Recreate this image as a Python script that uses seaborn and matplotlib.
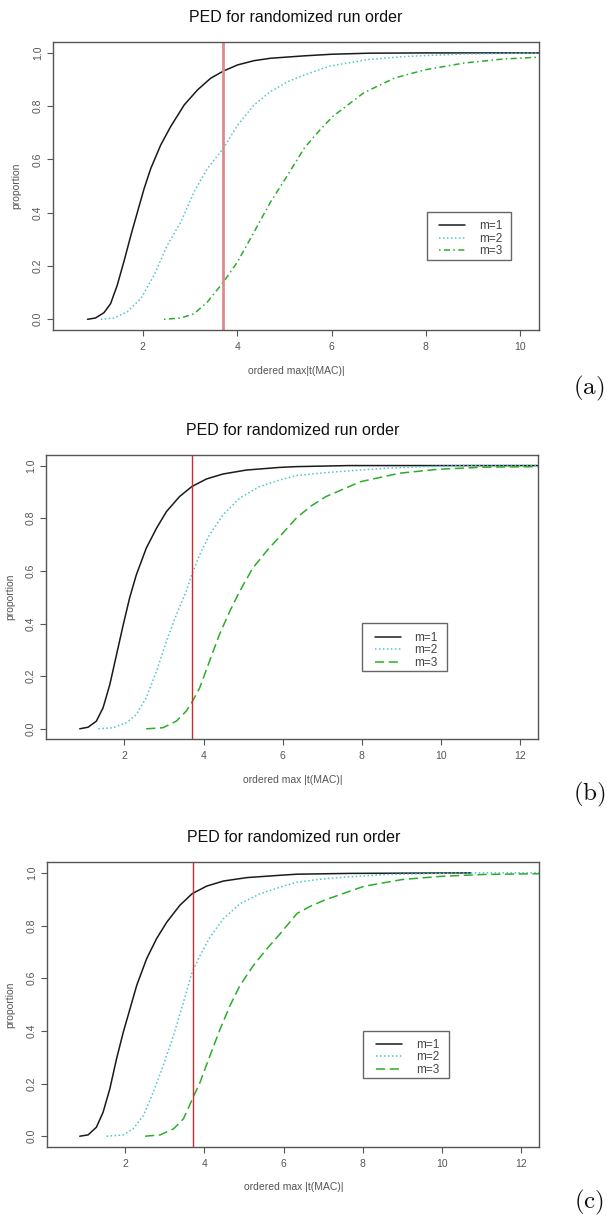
import numpy as np
import pandas as pd
import matplotlib
matplotlib.use('Agg')
import matplotlib.pyplot as plt
from matplotlib.patches import Rectangle
import seaborn as sns

sns.set_theme(style='white')
plt.rcParams['font.family'] = ['Liberation Sans', 'DejaVu Sans']
plt.rcParams['mathtext.fontset'] = 'cm'

title = 'PED for randomized run order'
labels = ['m=1', 'm=2', 'm=3']
panel_tags = ['(a)', '(b)', '(c)']
xlabels = ['ordered max|t(MAC)|', 'ordered max |t(MAC)|', 'ordered max |t(MAC)|']
vline_x = 3.70

# ---- panel (a) ----
xa1 = [0.83, 1.0, 1.18, 1.32, 1.46, 1.60, 1.75, 1.89, 2.03, 2.17, 2.38, 2.59, 2.88, 3.16, 3.44, 3.71,
       4.01, 4.36, 4.71, 5.42, 6.0, 6.8, 8.0, 10.4]
ya1 = [0.0, 0.005, 0.025, 0.059, 0.128, 0.216, 0.316, 0.404, 0.491, 0.566, 0.654, 0.723, 0.805, 0.861,
       0.905, 0.932, 0.955, 0.971, 0.98, 0.989, 0.995, 0.999, 1.0, 1.0]
xa2 = [1.11, 1.39, 1.67, 1.96, 2.24, 2.52, 2.81, 3.09, 3.37, 3.71, 4.01, 4.36, 4.71, 5.07, 5.42, 5.95,
       6.77, 7.59, 8.8, 10.4]
ya2 = [0.0, 0.005, 0.028, 0.078, 0.165, 0.278, 0.366, 0.479, 0.566, 0.642, 0.729, 0.805, 0.855, 0.892,
       0.917, 0.95, 0.975, 0.987, 0.996, 1.0]
xa3 = [2.45, 2.81, 3.09, 3.37, 3.71, 4.01, 4.36, 4.71, 5.07, 5.42, 5.75, 6.03, 6.68, 7.34, 7.99, 8.81,
       9.63, 10.4]
ya3 = [0.0, 0.005, 0.021, 0.065, 0.14, 0.216, 0.328, 0.441, 0.541, 0.642, 0.71, 0.762, 0.85, 0.906,
       0.937, 0.962, 0.977, 0.984]

# ---- panel (b) ----
xb1 = [0.87, 1.08, 1.29, 1.46, 1.63, 1.80, 1.97, 2.13, 2.30, 2.55, 2.81, 3.06, 3.39, 3.70, 4.07, 4.49,
       5.08, 5.92, 6.34, 7.67, 12.5]
yb1 = [0.0, 0.006, 0.029, 0.08, 0.168, 0.282, 0.396, 0.497, 0.585, 0.686, 0.762, 0.825, 0.882, 0.92,
       0.949, 0.968, 0.983, 0.993, 0.996, 1.0, 1.0]
xb2 = [1.34, 1.71, 2.05, 2.30, 2.55, 2.81, 3.06, 3.31, 3.56, 3.70, 3.90, 4.15, 4.49, 4.91, 5.41, 5.92,
       6.34, 7.0, 7.67, 8.65, 9.63, 10.6, 12.5]
yb2 = [0.0, 0.004, 0.023, 0.054, 0.118, 0.219, 0.332, 0.433, 0.522, 0.585, 0.661, 0.737, 0.813, 0.876,
       0.92, 0.945, 0.962, 0.972, 0.98, 0.99, 0.996, 1.0, 1.0]
xb3 = [2.55, 2.97, 3.31, 3.56, 3.70, 3.90, 4.15, 4.40, 4.66, 4.91, 5.24, 5.58, 5.92, 6.34, 6.7, 7.09,
       7.97, 8.95, 9.93, 11.1, 12.5]
yb3 = [0.0, 0.004, 0.029, 0.067, 0.099, 0.155, 0.257, 0.358, 0.446, 0.522, 0.61, 0.673, 0.73, 0.8,
       0.845, 0.882, 0.939, 0.971, 0.986, 0.994, 0.996]

# ---- panel (c) ----
xc1 = [0.85, 1.06, 1.27, 1.44, 1.61, 1.78, 1.95, 2.12, 2.29, 2.54, 2.79, 3.05, 3.38, 3.69, 4.06, 4.48,
       5.07, 5.92, 6.34, 7.65, 10.72]
yc1 = [0.0, 0.005, 0.034, 0.091, 0.18, 0.294, 0.395, 0.484, 0.573, 0.674, 0.75, 0.813, 0.877, 0.921,
       0.95, 0.969, 0.982, 0.991, 0.995, 0.998, 1.0]
xc2 = [1.53, 1.95, 2.20, 2.46, 2.71, 2.96, 3.22, 3.47, 3.69, 3.89, 4.14, 4.48, 4.90, 5.41, 5.92, 6.34,
       7.0, 7.65, 8.62, 10.57, 12.5]
yc2 = [0.0, 0.005, 0.028, 0.079, 0.168, 0.269, 0.383, 0.509, 0.623, 0.686, 0.756, 0.826, 0.883, 0.921,
       0.946, 0.965, 0.977, 0.985, 0.994, 1.0, 1.0]
xc3 = [2.50, 2.88, 3.22, 3.47, 3.69, 3.89, 4.14, 4.40, 4.65, 4.90, 5.24, 5.58, 5.92, 6.34, 6.7, 7.06,
       8.03, 9.01, 9.99, 11.06, 12.5]
yc3 = [0.0, 0.005, 0.028, 0.066, 0.139, 0.205, 0.306, 0.408, 0.497, 0.573, 0.649, 0.712, 0.77, 0.846,
       0.875, 0.898, 0.949, 0.975, 0.987, 0.994, 0.997]

xticks_a = [2, 4, 6, 8, 10]
xticks_bc = [2, 4, 6, 8, 10, 12]
yticks = [0.0, 0.2, 0.4, 0.6, 0.8, 1.0]
ytick_labels = ['0.0', '0.2', '0.4', '0.6', '0.8', '1.0']

panels = [
    dict(series=[(xa1, ya1), (xa2, ya2), (xa3, ya3)], xlim=(0.105, 10.39), xticks=xticks_a,
         rect=[0.0878, 0.7291, 0.7997, 0.2362], green_ls=(0, (1, 2.2, 4, 2.2)),
         red=dict(color='#dc8c8c', lw=2.0),
         frame=(0.7693, 0.2433, 0.1743, 0.1658), content=(0.7956, 0.382), tag_y=388),
    dict(series=[(xb1, yb1), (xb2, yb2), (xb3, yb3)], xlim=(0.03, 12.46), xticks=xticks_bc,
         rect=[0.0766, 0.3930, 0.8104, 0.2334], green_ls=(0, (6, 3)),
         red=dict(color='#d02a2a', lw=1.0),
         frame=(0.6404, 0.2402, 0.1742, 0.1678), content=(0.6672, 0.3788), tag_y=794),
    dict(series=[(xc1, yc1), (xc2, yc2), (xc3, yc3)], xlim=(0.03, 12.46), xticks=xticks_bc,
         rect=[0.0779, 0.0585, 0.8105, 0.2335], green_ls=(0, (6, 3)),
         red=dict(color='#d02a2a', lw=1.0),
         frame=(0.6417, 0.2405, 0.1752, 0.1674), content=(0.6687, 0.3798), tag_y=1202),
]

colors = ['#1a1a1a', '#4cc6cc', '#2aae2a']

fig = plt.figure(figsize=(6.07, 12.18), dpi=100)
fig.patch.set_facecolor('white')

for i, p in enumerate(panels):
    ax = fig.add_axes(p['rect'])
    styles = ['-', (0, (1, 1.6)), p['green_ls']]
    for (xs, ys), col, ls, lab in zip(p['series'], colors, styles, labels):
        df = pd.DataFrame({'x': xs, 'y': ys})
        sns.lineplot(data=df, x='x', y='y', ax=ax, color=col, linestyle=ls,
                     lw=1.1, label=lab, estimator=None, sort=False)
    ax.axvline(vline_x, **p['red'])
    ax.set_xlim(*p['xlim'])
    ax.set_ylim(-0.04, 1.04)
    ax.set_xticks(p['xticks'])
    ax.set_xticklabels([str(t) for t in p['xticks']])
    ax.set_yticks(yticks)
    ax.set_yticklabels(ytick_labels, rotation=90, va='center')
    ax.tick_params(axis='both', which='both', direction='out', length=4, width=0.8,
                   colors='#555555', labelsize=7.5, left=True, bottom=True)
    ax.tick_params(axis='x', pad=4.5)
    ax.tick_params(axis='y', pad=3.5)
    for s in ax.spines.values():
        s.set_color('#555555')
        s.set_linewidth(1.0)
    ax.set_title(title, fontsize=11.5, pad=14.5, color='#111111')
    ax.set_xlabel(xlabels[i], fontsize=7.5, color='#555555', labelpad=10)
    ax.set_ylabel('proportion', fontsize=7.5, color='#555555', labelpad=8)
    # legend box (R style): frame drawn separately, entries placed inside
    fx, fy, fw, fh = p['frame']
    ax.add_patch(Rectangle((fx, fy), fw, fh, transform=ax.transAxes, fill=True,
                           facecolor='white', edgecolor='#666666', lw=1.0, zorder=4))
    leg = ax.legend(loc='upper left', bbox_to_anchor=p['content'], fontsize=8.5,
                    handlelength=2.2, handletextpad=1.15, borderpad=0.0,
                    labelspacing=0.05, borderaxespad=0, frameon=False)
    leg.set_zorder(5)
    for t in leg.get_texts():
        t.set_color('#444444')
    fig.text(589 / 607, 1 - p['tag_y'] / 1218, r'$\mathrm{' + panel_tags[i] + '}$',
             fontsize=18, ha='center', va='center', color='#111111')

fig.savefig('out.png', dpi=100, facecolor='white')
